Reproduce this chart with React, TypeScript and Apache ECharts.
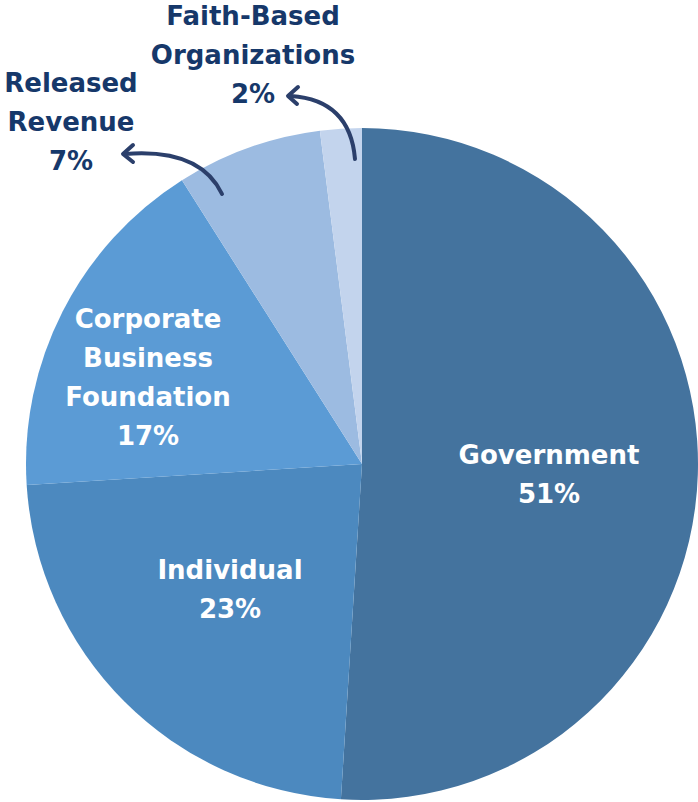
import React, { useEffect, useRef } from "react";
import * as echarts from "echarts";

const categories = [
  "Government",
  "Individual",
  "Corporate Business Foundation",
  "Released Revenue",
  "Faith-Based Organizations",
];
const labelNames = [
  "Government",
  "Individual",
  "Corporate\nBusiness\nFoundation",
  "Released\nRevenue",
  "Faith-Based\nOrganizations",
];
const shares = [51, 23, 17, 7, 2];

const colors = ["#44739e", "#4c89bf", "#5b9bd5", "#9cbbe1", "#c3d4ed"];
const labelColors = ["#ffffff", "#ffffff", "#ffffff", "#16386a", "#16386a"];
const labelAnchors: [number, number][] = [
  [549, 474],
  [230, 589],
  [148, 377],
  [71, 122],
  [253, 55],
];

export default function App() {
  const ref = useRef<HTMLDivElement>(null);
  useEffect(() => {
    if (!ref.current) return;
    const chart = echarts.init(ref.current, undefined, { renderer: "svg" });
    const arrowColor = "#2b3f6b";
    const lineStyle = { stroke: arrowColor, lineWidth: 4, fill: "none", lineCap: "round", lineJoin: "round" };
    chart.setOption({
      animation: false,
      backgroundColor: "#ffffff",
      series: [
        {
          type: "pie",
          center: [362, 464],
          radius: [0, 336],
          startAngle: 90,
          clockwise: true,
          avoidLabelOverlap: false,
          data: categories.map((name, i) => ({
            name,
            value: shares[i],
            itemStyle: { color: colors[i] },
            label: { color: labelColors[i] },
          })),
          label: {
            show: true,
            position: "inside",
            fontFamily: "DejaVu Sans",
            fontWeight: "bold",
            fontSize: 26,
            lineHeight: 39,
            align: "center",
            formatter: (p: any) => `${labelNames[p.dataIndex]}\n${shares[p.dataIndex]}%`,
          },
          labelLine: { show: false },
          labelLayout: (p: any) => ({
            x: labelAnchors[p.dataIndex][0],
            y: labelAnchors[p.dataIndex][1],
            align: "center",
            verticalAlign: "middle",
          }),
          emphasis: { disabled: true },
        },
      ],
      graphic: [
        {
          type: "bezierCurve",
          z: 100,
          shape: { x1: 355, y1: 159, cpx1: 350, cpy1: 100, x2: 291, y2: 96 },
          style: lineStyle,
        },
        {
          type: "polyline",
          z: 100,
          shape: { points: [[298, 87], [288, 96], [297, 104]] },
          style: lineStyle,
        },
        {
          type: "bezierCurve",
          z: 100,
          shape: { x1: 222, y1: 194, cpx1: 200, cpy1: 148, x2: 125, y2: 154 },
          style: lineStyle,
        },
        {
          type: "polyline",
          z: 100,
          shape: { points: [[133, 145], [123, 154], [133, 162]] },
          style: lineStyle,
        },
      ],
    });
    return () => chart.dispose();
  }, []);
  return (
    <div
      ref={ref}
      style={{ position: "fixed", left: 0, top: 0, width: 698, height: 802 }}
    />
  );
}
